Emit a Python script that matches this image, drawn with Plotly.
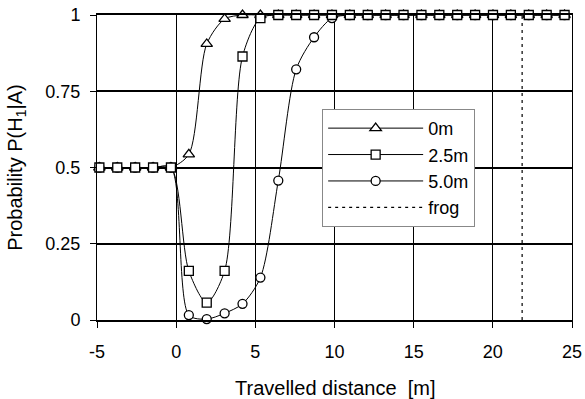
import plotly.graph_objects as go

# Travelled distance sample positions [m]
x_dist = [-4.85, -3.72, -2.59, -1.46, -0.33, 0.8, 1.93, 3.06, 4.19, 5.32, 6.45, 7.58,
          8.71, 9.84, 10.97, 12.1, 13.23, 14.36, 15.49, 16.62, 17.75, 18.88, 20.01,
          21.14, 22.27, 23.4, 24.53]

p_0m = [0.5, 0.5, 0.5, 0.5, 0.5, 0.543, 0.905, 0.987, 1.0, 1.0, 1.0, 1.0,
        1.0, 1.0, 1.0, 1.0, 1.0, 1.0, 1.0, 1.0, 1.0, 1.0, 1.0, 1.0, 1.0, 1.0, 1.0]
p_2_5m = [0.5, 0.5, 0.5, 0.5, 0.5, 0.161, 0.057, 0.161, 0.864, 0.99, 1.0, 1.0,
          1.0, 1.0, 1.0, 1.0, 1.0, 1.0, 1.0, 1.0, 1.0, 1.0, 1.0, 1.0, 1.0, 1.0, 1.0]
p_5_0m = [0.5, 0.5, 0.5, 0.5, 0.5, 0.016, 0.003, 0.022, 0.053, 0.139, 0.457, 0.822,
          0.927, 0.99, 1.0, 1.0, 1.0, 1.0, 1.0, 1.0, 1.0, 1.0, 1.0, 1.0, 1.0, 1.0, 1.0]

frog_x = [21.85, 21.85]
frog_y = [0, 1]

x_ticks = [-5, 0, 5, 10, 15, 20, 25]
x_tick_labels = ["-5", "0", "5", "10", "15", "20", "25"]
y_ticks = [0, 0.25, 0.5, 0.75, 1]
y_tick_labels = ["0", "0.25", "0.5", "0.75", "1"]

x_title = "Travelled distance\u00a0\u00a0[m]"
y_title = "Probability P(H<sub>1</sub>|A)"

FONT = "Liberation Sans, Arial, sans-serif"

fig = go.Figure()

def series(name, y, symbol, size, rank):
    return go.Scatter(
        x=x_dist, y=y, name=name, mode="lines+markers",
        line=dict(color="black", width=1, shape="spline", smoothing=0.8),
        marker=dict(symbol=symbol, size=size, color="white",
                    line=dict(color="black", width=1.3)),
        cliponaxis=False, legendrank=rank,
    )

fig.add_trace(series("0m", p_0m, "triangle-up", 10, 1))
fig.add_trace(series("5.0m", p_5_0m, "circle", 9, 3))
fig.add_trace(series("2.5m", p_2_5m, "square", 9, 2))
fig.add_trace(go.Scatter(
    x=frog_x, y=frog_y, name="frog", mode="lines",
    line=dict(color="black", width=1.2, dash="3px,4px"),
    legendrank=4,
))

fig.update_layout(
    width=585, height=399,
    margin=dict(l=97, r=13, t=15, b=79),
    paper_bgcolor="white", plot_bgcolor="white",
    font=dict(family=FONT, size=18, color="black"),
    showlegend=True,
    legend=dict(
        x=0.474, y=0.692, xanchor="left", yanchor="top",
        bgcolor="white", bordercolor="#888888", borderwidth=1,
        font=dict(family=FONT, size=18, color="black"),
        itemwidth=95,
    ),
    xaxis=dict(
        range=[-5, 25], tickvals=x_ticks, ticktext=x_tick_labels,
        ticks="outside", ticklen=6, tickcolor="black", ticklabelstandoff=8,
        showgrid=True, gridcolor="black", gridwidth=1, automargin=False,
        zeroline=False, showline=True, linecolor="black", linewidth=2, mirror=True,
        tickfont=dict(size=18),
    ),
    yaxis=dict(
        range=[0, 1], tickvals=y_ticks, ticktext=y_tick_labels, ticks="outside",
        ticklen=6, tickcolor="black", ticklabelstandoff=6, automargin=False,
        showgrid=True, gridcolor="black", gridwidth=2,
        zeroline=False, showline=True, linecolor="black", linewidth=1, mirror=True,
        tickfont=dict(size=18),
    ),
    annotations=[
        dict(text=x_title, xref="paper", yref="paper", x=0.5, y=-0.223,
             xanchor="center", yanchor="middle", showarrow=False,
             font=dict(family=FONT, size=20, color="black")),
        dict(text=y_title, xref="paper", yref="paper", x=-0.170, y=0.5,
             xanchor="center", yanchor="middle", textangle=-90, showarrow=False,
             font=dict(family=FONT, size=20, color="black")),
    ],
)

fig.write_html("out.html", config={"displayModeBar": False},
               post_script="document.body.style.margin='0';document.body.style.padding='0';")
